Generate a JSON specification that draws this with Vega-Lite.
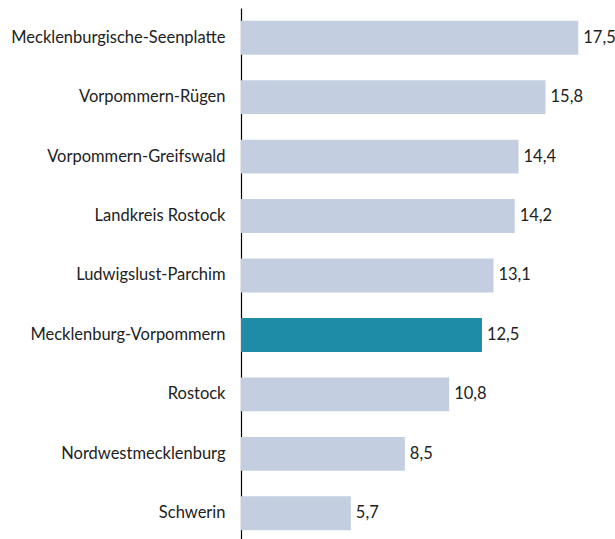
{
  "$schema": "https://vega.github.io/schema/vega-lite/v6.json",
  "autosize": "none",
  "width": 337.3,
  "height": 535,
  "padding": {"left": 241, "top": 8, "right": 37, "bottom": 0},
  "config": {"view": {"stroke": null}, "font": "Lato"},
  "data": {"values": [
    {"region": "Mecklenburgische-Seenplatte", "wert": 17.5, "label": "17,5", "hl": "n"},
    {"region": "Vorpommern-Rügen", "wert": 15.8, "label": "15,8", "hl": "n"},
    {"region": "Vorpommern-Greifswald", "wert": 14.4, "label": "14,4", "hl": "n"},
    {"region": "Landkreis Rostock", "wert": 14.2, "label": "14,2", "hl": "n"},
    {"region": "Ludwigslust-Parchim", "wert": 13.1, "label": "13,1", "hl": "n"},
    {"region": "Mecklenburg-Vorpommern", "wert": 12.5, "label": "12,5", "hl": "y"},
    {"region": "Rostock", "wert": 10.8, "label": "10,8", "hl": "n"},
    {"region": "Nordwestmecklenburg", "wert": 8.5, "label": "8,5", "hl": "n"},
    {"region": "Schwerin", "wert": 5.7, "label": "5,7", "hl": "n"}
  ]},
  "encoding": {
    "y": {"field": "region", "type": "nominal", "sort": null,
      "scale": {"paddingInner": 0.43, "paddingOuter": 0.215},
      "axis": {"title": null, "ticks": false, "domainColor": "#000000", "domainWidth": 1.2,
        "labelFontSize": 16.5, "labelColor": "#222222", "labelPadding": 16, "labelFont": "Lato", "labelLimit": 0}},
    "x": {"field": "wert", "type": "quantitative",
      "scale": {"domain": [0, 17.5], "nice": false}, "axis": null}
  },
  "layer": [
    {"mark": {"type": "bar", "clip": false},
      "encoding": {"color": {"field": "hl", "type": "nominal",
        "scale": {"domain": ["n", "y"], "range": ["#c4cee1", "#1e8ca7"]}, "legend": null}}},
    {"mark": {"type": "text", "align": "left", "dx": 5, "fontSize": 16.5, "color": "#222222", "font": "Lato"},
      "encoding": {"text": {"field": "label"}}}
  ]
}
